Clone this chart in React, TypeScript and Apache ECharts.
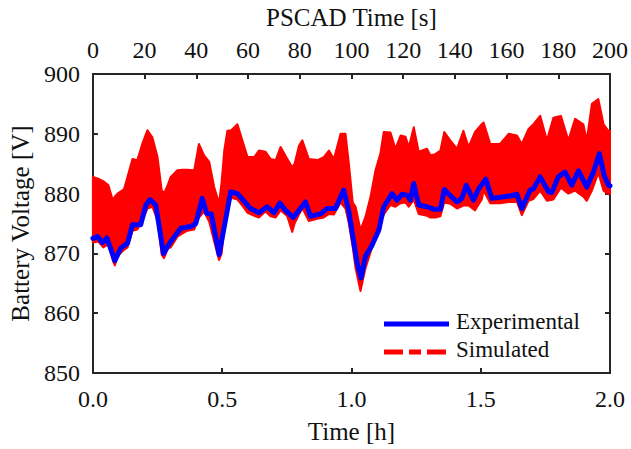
import React, { useEffect, useRef } from "react";
import * as echarts from "echarts";

// Experimental (measured) battery voltage, time in hours
const expTime = [0, 0.018, 0.037, 0.054, 0.085, 0.108, 0.134, 0.153, 0.185, 0.205, 0.221, 0.243, 0.273, 0.301, 0.34, 0.378, 0.398, 0.423, 0.44, 0.458, 0.488, 0.533, 0.559, 0.61, 0.642, 0.674, 0.7, 0.723, 0.745, 0.775, 0.797, 0.822, 0.842, 0.88, 0.906, 0.938, 0.97, 0.99, 1.022, 1.037, 1.054, 1.08, 1.106, 1.125, 1.157, 1.176, 1.196, 1.217, 1.228, 1.241, 1.26, 1.292, 1.318, 1.344, 1.359, 1.382, 1.408, 1.427, 1.444, 1.472, 1.492, 1.52, 1.543, 1.575, 1.614, 1.64, 1.659, 1.691, 1.704, 1.73, 1.762, 1.775, 1.8, 1.826, 1.852, 1.878, 1.91, 1.936, 1.959, 1.977, 1.994, 2.0];
const expVoltage = [872.5, 872.8, 871.8, 872.6, 868.8, 870.9, 871.7, 874.8, 874.8, 878.1, 879.0, 878.1, 870.0, 872.0, 874.2, 874.5, 875.0, 879.2, 876.7, 876.6, 869.8, 880.3, 880.0, 877.5, 876.8, 877.8, 876.8, 878.4, 877.2, 876.0, 877.2, 878.6, 876.2, 876.6, 877.5, 877.5, 880.6, 877.0, 868.4, 865.9, 869.5, 871.4, 873.9, 877.8, 880.0, 878.9, 879.9, 879.7, 878.9, 881.7, 878.1, 877.8, 877.4, 877.4, 880.7, 879.7, 878.6, 879.2, 881.4, 878.9, 880.8, 882.4, 879.2, 879.4, 879.6, 879.9, 877.5, 880.6, 880.8, 882.8, 880.3, 880.2, 882.8, 883.6, 881.4, 883.8, 881.1, 883.6, 886.7, 883.1, 881.4, 881.3];

// Simulated voltage: dense oscillation, given by its lower and upper envelope
const simTime = [0, 0.02, 0.04, 0.06, 0.077, 0.085, 0.095, 0.12, 0.134, 0.153, 0.172, 0.191, 0.211, 0.23, 0.25, 0.266, 0.275, 0.29, 0.301, 0.327, 0.345, 0.366, 0.392, 0.41, 0.43, 0.45, 0.469, 0.488, 0.498, 0.508, 0.52, 0.535, 0.559, 0.578, 0.598, 0.624, 0.642, 0.668, 0.687, 0.707, 0.726, 0.752, 0.771, 0.78, 0.797, 0.81, 0.835, 0.868, 0.893, 0.913, 0.932, 0.958, 0.977, 0.99, 1.005, 1.016, 1.035, 1.054, 1.074, 1.093, 1.112, 1.125, 1.151, 1.17, 1.19, 1.209, 1.222, 1.241, 1.26, 1.292, 1.305, 1.324, 1.344, 1.359, 1.382, 1.408, 1.433, 1.453, 1.478, 1.504, 1.511, 1.537, 1.575, 1.608, 1.64, 1.659, 1.685, 1.704, 1.73, 1.756, 1.781, 1.81, 1.839, 1.865, 1.897, 1.91, 1.93, 1.955, 1.975, 1.994, 2.0];
const simUpper = [882.8, 882.5, 882.1, 881.4, 878.9, 879.5, 880.0, 880.7, 882.8, 885.8, 885.6, 888.3, 890.6, 889.4, 886.1, 880.6, 880.0, 881.5, 882.8, 883.9, 884.0, 884.0, 883.9, 888.3, 886.4, 885.3, 881.1, 878.4, 882.0, 887.2, 890.5, 890.6, 891.6, 888.9, 886.1, 886.1, 887.2, 887.0, 885.8, 885.6, 887.8, 885.8, 884.4, 885.0, 888.0, 888.9, 885.8, 885.6, 886.1, 887.2, 885.8, 890.0, 890.0, 885.0, 878.5, 877.8, 873.9, 876.1, 879.5, 883.9, 886.7, 890.3, 890.2, 887.5, 889.7, 889.5, 887.8, 891.1, 887.0, 887.5, 886.4, 886.6, 887.2, 890.3, 888.9, 887.5, 890.5, 887.8, 890.3, 891.6, 891.9, 888.3, 888.3, 890.0, 889.7, 888.3, 890.8, 891.6, 893.0, 888.9, 892.7, 893.0, 888.9, 892.5, 891.6, 888.9, 895.0, 895.8, 891.6, 890.5, 890.5];
const simLower = [871.8, 872.0, 871.0, 871.5, 868.8, 868.0, 869.5, 870.6, 871.0, 873.8, 874.0, 875.5, 877.5, 877.8, 875.5, 869.8, 869.2, 870.8, 871.0, 872.8, 873.3, 873.8, 874.0, 876.0, 877.0, 875.3, 872.0, 868.9, 870.0, 874.0, 878.5, 879.3, 879.0, 878.0, 876.8, 876.3, 876.0, 877.0, 876.2, 876.0, 877.2, 876.2, 873.6, 875.0, 876.5, 877.6, 875.4, 875.8, 876.0, 876.6, 876.5, 878.5, 877.5, 875.0, 871.0, 867.5, 863.7, 867.5, 870.2, 872.5, 875.0, 876.5, 878.1, 877.8, 878.4, 878.5, 877.8, 879.0, 876.6, 876.3, 876.0, 876.0, 876.2, 878.5, 878.3, 877.5, 878.0, 878.0, 877.2, 879.0, 880.5, 878.4, 878.4, 878.6, 878.6, 876.4, 878.8, 879.1, 880.5, 878.8, 879.0, 881.0, 880.0, 880.5, 879.5, 878.8, 880.5, 883.5, 880.5, 879.9, 880.0];

// Axis ticks
const hourTicks = { min: 0, max: 2, interval: 0.5 };
const secondTicks = { min: 0, max: 200, interval: 20 };
const voltTicks = { min: 850, max: 900, interval: 10 };

const FONT = "'Liberation Serif', 'Times New Roman', serif";
const AX = "#262626";

export default function App() {
  const ref = useRef<HTMLDivElement>(null);
  useEffect(() => {
    if (!ref.current) return;
    const chart = echarts.init(ref.current, undefined, { renderer: "svg" });
    const axisCommon = {
      axisLine: { show: true, onZero: false, lineStyle: { color: AX, width: 2 } },
      axisTick: { show: true, inside: true, length: 5, lineStyle: { color: AX, width: 2 } },
      splitLine: { show: false },
      nameTextStyle: { fontFamily: FONT, fontSize: 25, color: "#111" },
    };
    const labelStyle = { fontFamily: FONT, fontSize: 24, color: "#111" };
    chart.setOption({
      animation: false,
      backgroundColor: "#fff",
      grid: { left: 92, right: 21, top: 73, bottom: 75, containLabel: false },
      xAxis: [
        {
          type: "value",
          position: "bottom",
          ...hourTicks,
          ...axisCommon,
          name: "Time [h]",
          nameLocation: "middle",
          nameGap: 46,
          axisLabel: { ...labelStyle, margin: 14, formatter: (v: number) => v.toFixed(1) },
        },
        {
          type: "value",
          position: "top",
          ...secondTicks,
          ...axisCommon,
          name: "PSCAD Time [s]",
          nameLocation: "middle",
          nameGap: 44,
          axisLabel: { ...labelStyle, margin: 12 },
        },
      ],
      yAxis: [
        {
          type: "value",
          position: "left",
          ...voltTicks,
          ...axisCommon,
          name: "Battery Voltage [V]",
          nameLocation: "middle",
          nameGap: 57,
          axisLabel: { ...labelStyle, margin: 13 },
        },
        {
          type: "value",
          position: "right",
          ...voltTicks,
          ...axisCommon,
          axisLabel: { show: false },
        },
      ],
      series: [
        {
          name: "Simulated",
          type: "custom",
          silent: true,
          xAxisIndex: 0,
          yAxisIndex: 0,
          encode: { x: 0, y: [1, 2] },
          data: simTime.map((t, i) => [t, simLower[i], simUpper[i]]),
          renderItem: (params: any, api: any) => {
            if (params.dataIndex !== 0) return null;
            const pts: number[][] = [];
            for (let i = 0; i < simTime.length; i++) {
              pts.push(api.coord([simTime[i], simUpper[i]]));
            }
            for (let i = simTime.length - 1; i >= 0; i--) {
              pts.push(api.coord([simTime[i], simLower[i]]));
            }
            return {
              type: "polygon",
              shape: { points: pts },
              style: { fill: "#ff0000", stroke: "#ff0000", lineWidth: 2, lineJoin: "round" },
            };
          },
          z: 2,
        },
        {
          name: "Experimental",
          type: "line",
          symbol: "none",
          silent: true,
          data: expTime.map((t, i) => [t, expVoltage[i]]),
          lineStyle: { color: "#0000ff", width: 5, cap: "round", join: "round" },
          z: 3,
        },
      ],
      graphic: [
        {
          type: "line",
          shape: { x1: 384, y1: 324, x2: 449, y2: 324 },
          style: { stroke: "#0000ff", lineWidth: 5 },
        },
        {
          type: "text",
          left: 456,
          top: 310,
          style: { text: "Experimental", font: `23px ${FONT}`, fill: "#111" },
        },
        {
          type: "line",
          shape: { x1: 384, y1: 352, x2: 449, y2: 352 },
          style: { stroke: "#ff0000", lineWidth: 5, lineDash: [19, 6, 12, 6] },
        },
        {
          type: "text",
          left: 456,
          top: 338,
          style: { text: "Simulated", font: `23px ${FONT}`, fill: "#111" },
        },
      ],
    });
    return () => chart.dispose();
  }, []);
  return (
    <div
      ref={ref}
      style={{ position: "fixed", left: 0, top: 0, width: 631, height: 449, background: "#fff" }}
    />
  );
}
